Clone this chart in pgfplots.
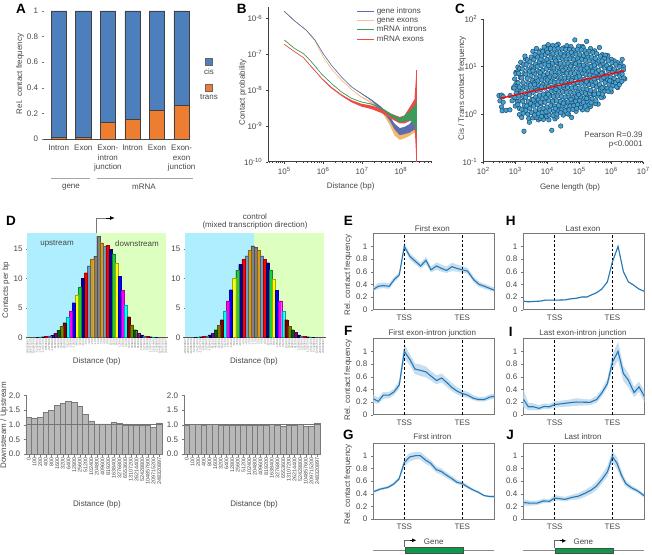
\documentclass[border=0pt]{standalone}
\usepackage{fontspec}
\setmainfont{Liberation Sans}
\usepackage{pgfplots}
\usepackage{pgfplotstable}
\pgfplotsset{compat=1.18}
\usetikzlibrary{arrows.meta}

\definecolor{txt}{RGB}{70,70,70}
\definecolor{axc}{RGB}{120,120,120}
\definecolor{cis}{RGB}{76,127,188}
\definecolor{trans}{RGB}{237,125,49}
\definecolor{gintron}{RGB}{90,110,176}
\definecolor{gexon}{RGB}{245,197,134}
\definecolor{mintron}{RGB}{60,154,90}
\definecolor{mexon}{RGB}{238,74,74}
\definecolor{scat}{RGB}{70,160,208}
\definecolor{scatl}{RGB}{24,70,100}
\definecolor{up}{RGB}{174,238,255}
\definecolor{down}{RGB}{221,255,191}
\definecolor{profc}{RGB}{38,120,181}
\definecolor{band}{RGB}{198,222,240}
\definecolor{genebox}{RGB}{10,154,74}
% bar colours of panel D
\definecolor{c1}{RGB}{128,128,128}
\definecolor{c2}{RGB}{218,155,20}
\definecolor{c3}{RGB}{106,159,200}
\definecolor{c4}{RGB}{255,0,0}
\definecolor{c5}{RGB}{0,0,150}
\definecolor{c6}{RGB}{30,205,60}
\definecolor{c7}{RGB}{255,255,0}
\definecolor{c8}{RGB}{0,0,255}
\definecolor{c9}{RGB}{255,0,255}
\definecolor{c10}{RGB}{0,255,255}
\definecolor{c11}{RGB}{128,0,0}
\definecolor{c12}{RGB}{128,128,0}
\definecolor{c13}{RGB}{0,100,0}
\definecolor{c14}{RGB}{128,0,128}
\definecolor{c15}{RGB}{0,0,128}

\newcommand\lab{\fontsize{8}{9.7}\selectfont}
\newcommand\tp[1]{10\textsuperscript{#1}}
\newcommand\txt[3]{\node[font=\lab,text=txt,inner sep=0pt,align=center] at (#1,{554-#2}) {#3};}
\newcommand\letter[3]{\node[font=\fontsize{13.5}{14}\selectfont\bfseries,inner sep=0pt] at (#1,{554-#2}) {#3};}

\pgfplotsset{
  /pgf/number format/assume math mode=true,
  every axis title shift=0pt,
  base/.style={scale only axis,anchor=south west,clip=false,
    tick label style={font=\lab,text=txt},label style={font=\lab,text=txt},
    title style={font=\lab,text=txt},
    tick align=outside,axis line style={axc},tick style={axc},
    major tick length=2.5pt,minor tick length=1.3pt},
  ylab/.style 2 args={ylabel style={at={(axis description cs:#1,#2)},anchor=center}},
  xlab/.style 2 args={xlabel style={at={(axis description cs:#1,#2)},anchor=center}},
  tit/.style 2 args={title style={at={(axis description cs:#1,#2)},anchor=center}},
  prof/.style={base,width=120.7,height=76,ymin=0,ymax=1.2,
    ytick={0,0.2,0.4,0.6,0.8,1},xtick={0,1},xticklabels={TSS,TES},
    xtick style={draw=none},ytick pos=left,axis line style={axc,line width=0.9pt},
    xticklabel style={yshift=1pt},clip=true},
  % upper histogram of panel D
  hist/.style={base,width=138.7,height=104,ymin=0,ymax=17.7,
    axis lines*=left,axis line style={axc,line width=1pt},
    ytick={0,5,10,15},xtick={-22.5,-21.5,-20.5,-19.5,-18.5,-17.5,-16.5,-15.5,-14.5,-13.5,-12.5,-11.5,-10.5,-9.5,-8.5,-7.5,-6.5,-5.5,-4.5,-3.5,-2.5,-1.5,-0.5,0.5,1.5,2.5,3.5,4.5,5.5,6.5,7.5,8.5,9.5,10.5,11.5,12.5,13.5,14.5,15.5,16.5,17.5,18.5,19.5,20.5,21.5,22.5},
    xticklabels={-248320897,-209715200,-104857600,-52428800,-26214400,-13107200,-6553600,-3276800,-1638400,-819200,-409600,-204800,-102400,-51200,-25600,-12800,-6400,-3200,-1600,-800,-400,-200,-100,100,200,400,800,1600,3200,6400,12800,25600,51200,102400,204800,409600,819200,1638400,3276800,6553600,13107200,26214400,52428800,104857600,209715200,248320897},
    xticklabel style={font=\fontsize{2.9}{3}\selectfont,rotate=90,anchor=east,text=axc,xshift=-0.5pt,inner sep=0pt},
    major tick length=1.2pt},
  % lower ratio plot of panel D
  ratio/.style={base,width=136,height=58.7,ymin=0,ymax=2,xmin=-0.5,xmax=23.5,
    axis lines*=left,axis line style={axc,line width=0.9pt},
    ytick={0,0.5,1,1.5,2},yticklabel style={/pgf/number format/.cd,fixed,fixed zerofill,precision=1},
    xtick={0,...,23},
    xticklabels={0,100,200,400,800,1600,3200,6400,12800,25600,51200,102400,204800,409600,819200,1638400,3276800,6553600,13107200,26214400,52428800,104857600,209715200,248320897},
    xticklabel style={font=\fontsize{5.4}{6}\selectfont,rotate=90,anchor=east,text=txt,inner sep=1pt}},
}
\newcommand\bb[2]{\addplot[ybar,bar shift=0pt,bar width=3.07pt,fill=#1,draw=#1!65!black,line width=0.2pt] coordinates {#2};}
\newcommand\ratiobars[1]{\addplot[ybar,bar shift=0pt,bar width=5.67pt,fill=black!28,draw=black!52,line width=0.5pt] coordinates {#1};
  \addplot[black!55,line width=0.5pt] coordinates {(-0.5,1) (23.5,1)};}
% band polygon: hi column forwards, lo column backwards
\newcommand\bandof[2]{%
  \pgfplotstablegetrowsof{#1}\pgfmathtruncatemacro\nr{\pgfplotsretval-1}%
  \gdef\fw{}\gdef\bw{}%
  \pgfplotsforeachungrouped \i in {0,...,\nr}{%
    \pgfplotstablegetelem{\i}{x}\of{#1}\let\xv\pgfplotsretval
    \pgfplotstablegetelem{\i}{hi}\of{#1}\let\hv\pgfplotsretval
    \pgfplotstablegetelem{\i}{lo}\of{#1}\let\lv\pgfplotsretval
    \xdef\fw{\fw (\xv,\hv)}\xdef\bw{(\xv,\lv) \bw}}%
  \edef\tmp{\noexpand\addplot[fill=#2,draw=none,forget plot] coordinates {\fw\space\bw} --cycle;}\tmp}
\newcommand\profile[1]{
  \bandof{#1}{band}
  \addplot[black,line width=0.7pt,dash pattern=on 2.5pt off 2pt] coordinates {(0,0) (0,1.2)};
  \addplot[black,line width=0.7pt,dash pattern=on 2.5pt off 2pt] coordinates {(1,0) (1,1.2)};
  \addplot[profc,line width=1.1pt] table[x=x,y=y] {#1};
}
\newcommand\contact[2]{
  \bandof{#1}{#2}
  \addplot[#2,line width=0.55pt,forget plot] table[x=x,y=y] {#1};
}

\pgfplotstableread{
x y lo hi
5.00 -5.80 -5.802 -5.798
5.27 -6.07 -6.072 -6.068
5.57 -6.33 -6.332 -6.328
5.79 -6.60 -6.602 -6.598
6.00 -6.98 -6.982 -6.978
6.21 -7.30 -7.302 -7.298
6.47 -7.63 -7.632 -7.628
6.73 -7.91 -7.912 -7.908
6.98 -8.09 -8.10 -8.08
7.24 -8.28 -8.30 -8.26
7.50 -8.51 -8.55 -8.47
7.71 -8.79 -8.85 -8.73
7.84 -9.02 -9.10 -8.94
7.97 -9.16 -9.26 -9.06
8.09 -9.13 -9.23 -9.03
8.22 -9.07 -9.19 -8.95
8.35 -8.93 -9.10 -8.76
8.40 -8.74 -9.25 -8.45
}\tabGI
\pgfplotstableread{
x y lo hi
5.00 -5.80 -5.802 -5.798
5.27 -6.07 -6.072 -6.068
5.57 -6.33 -6.332 -6.328
5.79 -6.62 -6.622 -6.618
6.00 -7.07 -7.072 -7.068
6.21 -7.40 -7.402 -7.398
6.47 -7.72 -7.722 -7.718
6.73 -7.98 -7.982 -7.978
6.98 -8.19 -8.20 -8.18
7.24 -8.35 -8.37 -8.33
7.50 -8.54 -8.59 -8.49
7.71 -8.88 -8.97 -8.79
7.84 -9.16 -9.27 -9.05
7.97 -9.26 -9.39 -9.13
8.09 -9.23 -9.35 -9.11
8.22 -9.13 -9.28 -8.98
8.35 -9.00 -9.18 -8.80
8.40 -8.90 -9.35 -8.55
}\tabGE
\pgfplotstableread{
x y lo hi
5.00 -6.60 -6.604 -6.596
5.27 -6.84 -6.844 -6.836
5.49 -6.98 -6.984 -6.976
5.70 -7.21 -7.214 -7.206
5.96 -7.55 -7.554 -7.546
6.21 -7.81 -7.814 -7.806
6.47 -8.05 -8.054 -8.046
6.73 -8.23 -8.235 -8.225
6.98 -8.33 -8.335 -8.325
7.24 -8.39 -8.40 -8.38
7.50 -8.51 -8.53 -8.49
7.75 -8.70 -8.74 -8.66
7.97 -8.84 -8.90 -8.78
8.09 -8.79 -8.87 -8.71
8.26 -8.70 -8.85 -8.55
8.35 -8.66 -8.95 -8.45
8.40 -8.60 -9.20 -8.30
}\tabMI
\pgfplotstableread{
x y lo hi
5.00 -6.72 -6.724 -6.716
5.27 -6.93 -6.934 -6.926
5.49 -7.09 -7.094 -7.086
5.70 -7.35 -7.36 -7.34
5.96 -7.67 -7.68 -7.66
6.21 -7.93 -7.95 -7.91
6.47 -8.14 -8.16 -8.12
6.73 -8.31 -8.34 -8.28
6.98 -8.42 -8.46 -8.38
7.24 -8.48 -8.53 -8.43
7.50 -8.58 -8.64 -8.52
7.75 -8.73 -8.80 -8.66
7.97 -8.84 -8.93 -8.75
8.09 -8.82 -8.93 -8.71
8.26 -8.65 -8.85 -8.42
8.35 -8.55 -8.95 -8.25
8.40 -8.47 -10.00 -7.44
}\tabME

\pgfplotstableread{
x y lo hi
-0.534 0.32 0.29 0.36
-0.448 0.37 0.33 0.42
-0.362 0.38 0.34 0.43
-0.259 0.37 0.33 0.42
-0.178 0.47 0.43 0.51
-0.086 0.55 0.52 0.59
0 1.00 0.96 1.06
0.098 0.84 0.79 0.89
0.184 0.77 0.72 0.82
0.282 0.69 0.65 0.74
0.374 0.78 0.72 0.83
0.460 0.63 0.59 0.68
0.557 0.69 0.63 0.75
0.644 0.65 0.60 0.71
0.730 0.62 0.58 0.68
0.822 0.68 0.61 0.74
0.914 0.65 0.60 0.71
1 0.63 0.58 0.69
1.090 0.61 0.57 0.66
1.200 0.47 0.43 0.52
1.290 0.40 0.36 0.44
1.380 0.37 0.33 0.41
1.547 0.31 0.28 0.35
}\tabE
\pgfplotstableread{
x y lo hi
-0.534 0.25 0.19 0.31
-0.448 0.21 0.17 0.27
-0.362 0.31 0.25 0.36
-0.259 0.31 0.26 0.36
-0.178 0.36 0.31 0.41
-0.086 0.47 0.41 0.54
0 1.00 0.88 1.12
0.098 0.87 0.78 0.95
0.184 0.72 0.64 0.81
0.282 0.70 0.61 0.79
0.374 0.675 0.59 0.76
0.460 0.61 0.54 0.69
0.557 0.54 0.48 0.62
0.644 0.58 0.51 0.65
0.730 0.51 0.44 0.58
0.822 0.43 0.37 0.50
0.914 0.37 0.32 0.43
1 0.335 0.28 0.39
1.090 0.31 0.27 0.36
1.190 0.26 0.23 0.31
1.280 0.24 0.21 0.28
1.380 0.24 0.21 0.28
1.480 0.28 0.24 0.32
1.547 0.29 0.25 0.33
}\tabF
\pgfplotstableread{
x y lo hi
-0.534 0.43 0.41 0.45
-0.420 0.47 0.45 0.49
-0.280 0.50 0.48 0.52
-0.184 0.55 0.53 0.58
-0.092 0.63 0.60 0.66
0 0.89 0.83 0.95
0.092 0.98 0.91 1.04
0.195 1.00 0.94 1.06
0.276 1.00 0.94 1.06
0.368 0.93 0.87 0.99
0.454 0.88 0.83 0.93
0.552 0.78 0.73 0.83
0.638 0.75 0.70 0.80
0.724 0.695 0.65 0.74
0.816 0.64 0.60 0.68
0.908 0.58 0.55 0.62
1 0.56 0.53 0.59
1.086 0.51 0.48 0.54
1.184 0.46 0.44 0.48
1.282 0.42 0.40 0.44
1.374 0.37 0.36 0.385
1.470 0.355 0.34 0.37
1.547 0.355 0.34 0.37
}\tabG
\pgfplotstableread{
x y lo hi
-0.544 0.135 0.125 0.145
-0.457 0.125 0.115 0.135
-0.370 0.130 0.120 0.140
-0.254 0.135 0.125 0.145
-0.168 0.150 0.140 0.160
0 0.150 0.140 0.160
0.179 0.155 0.145 0.165
0.266 0.170 0.160 0.180
0.370 0.180 0.170 0.190
0.468 0.200 0.190 0.210
0.555 0.200 0.190 0.210
0.642 0.235 0.225 0.245
0.728 0.270 0.260 0.280
0.815 0.325 0.315 0.335
0.913 0.440 0.425 0.455
1 0.755 0.735 0.775
1.098 1.00 0.98 1.02
1.191 0.60 0.585 0.615
1.277 0.44 0.43 0.45
1.364 0.39 0.38 0.40
1.462 0.325 0.315 0.335
1.553 0.29 0.28 0.30
}\tabH
\pgfplotstableread{
x y lo hi
-0.544 0.245 0.12 0.40
-0.457 0.125 0.07 0.19
-0.370 0.125 0.07 0.18
-0.272 0.10 0.07 0.15
-0.185 0.13 0.09 0.18
-0.092 0.125 0.09 0.17
0 0.16 0.11 0.21
0.092 0.17 0.12 0.22
0.266 0.19 0.13 0.24
0.370 0.20 0.14 0.26
0.613 0.195 0.15 0.24
0.728 0.24 0.19 0.30
0.821 0.35 0.29 0.41
0.913 0.49 0.43 0.57
1 0.83 0.71 0.95
1.098 1.00 0.86 1.15
1.191 0.65 0.53 0.77
1.277 0.545 0.43 0.65
1.376 0.35 0.28 0.44
1.462 0.44 0.36 0.52
1.553 0.29 0.20 0.38
}\tabI
\pgfplotstableread{
x y lo hi
-0.540 0.26 0.21 0.31
-0.425 0.25 0.21 0.29
-0.310 0.25 0.22 0.29
-0.195 0.285 0.25 0.32
-0.092 0.28 0.25 0.31
0 0.33 0.29 0.38
0.092 0.32 0.29 0.36
0.178 0.31 0.28 0.35
0.293 0.34 0.30 0.38
0.408 0.36 0.31 0.41
0.523 0.405 0.35 0.46
0.638 0.46 0.40 0.52
0.724 0.52 0.46 0.59
0.810 0.615 0.55 0.69
0.914 0.745 0.67 0.84
1 0.985 0.89 1.08
1.080 0.88 0.79 0.97
1.155 0.695 0.63 0.77
1.230 0.56 0.51 0.61
1.328 0.495 0.46 0.53
1.443 0.44 0.41 0.47
1.546 0.37 0.34 0.40
}\tabJ

\begin{document}
\begin{tikzpicture}[x=1pt,y=1pt]
\path[use as bounding box] (0,0) rectangle (652,554);

% ---------- A
\begin{axis}[base,at={(44pt,415pt)},width=146,height=128,
  ybar stacked,bar width=15.3pt,ymin=0,ymax=1,xmin=-0.6,xmax=5.34,
  axis x line*=bottom,axis y line*=left,y axis line style={draw=none},
  x axis line style={black!70,line width=0.7pt},
  ytick={0,0.2,0.4,0.6,0.8,1},xtick={0,1,2,3,4,5},xtick style={draw=none},
  xticklabels={Intron,Exon,{Exon-\\intron\\junction},Intron,Exon,{Exon-\\exon\\junction}},
  xticklabel style={align=center},
  ylabel={Rel. contact frequency},ylab={-0.164}{0.508}]
\addplot[fill=trans,draw=black!75,line width=0.6pt] coordinates {(0,0.012) (1,0.012) (2,0.13) (3,0.155) (4,0.225) (5,0.265)};
\addplot[fill=cis,draw=black!75,line width=0.6pt] coordinates {(0,0.988) (1,0.988) (2,0.87) (3,0.845) (4,0.775) (5,0.735)};
\end{axis}
\fill[cis,draw=black!60,line width=0.3pt] (205.5,{554-65}) rectangle (212.5,{554-58});
\txt{209}{72}{cis}
\fill[trans,draw=black!60,line width=0.3pt] (205.5,{554-91}) rectangle (212.5,{554-84});
\txt{209}{97}{trans}
\draw[black!35,line width=1pt] (51,{554-178.5}) -- (90,{554-178.5});
\draw[black!35,line width=1pt] (97,{554-178.5}) -- (192.5,{554-178.5});
\txt{71}{187}{gene}
\txt{144}{187}{mRNA}

% ---------- B
\begin{axis}[base,at={(268.3pt,392.3pt)},width=163.7,height=155,
  xmin=4.59,xmax=8.80,ymin=-10,ymax=-5.67,
  axis lines*=left,axis line style={black!75},tick style={black!75},
  xtick={5,6,7,8},xticklabels={\tp{5},\tp{6},\tp{7},\tp{8}},
  minor xtick={4.60,4.70,4.78,4.85,4.90,4.95,5.30,5.48,5.60,5.70,5.78,5.85,5.90,5.95,6.30,6.48,6.60,6.70,6.78,6.85,6.90,6.95,7.30,7.48,7.60,7.70,7.78,7.85,7.90,7.95,8.30,8.48,8.60,8.70,8.78},
  ytick={-10,-9,-8,-7,-6},yticklabels={\tp{-10},\tp{-9},\tp{-8},\tp{-7},\tp{-6}},
  xlabel={Distance (bp)},xlab={0.503}{-0.157},
  ylabel={Contact probability},ylab={-0.156}{0.448},
  legend style={at={(axis description cs:0.54,1.005)},anchor=north west,draw=none,fill=none,font=\lab,text=txt,row sep=-1.6pt,inner sep=0pt},
  legend cell align=left]
\addlegendimage{gintron,line width=0.8pt}\addlegendentry{gene introns}
\addlegendimage{gexon,line width=0.8pt}\addlegendentry{gene exons}
\addlegendimage{mintron,line width=0.8pt}\addlegendentry{mRNA introns}
\addlegendimage{mexon,line width=0.8pt}\addlegendentry{mRNA exons}
\contact{\tabGE}{gexon!80!orange}
\contact{\tabGI}{gintron}
\contact{\tabME}{mexon}
\contact{\tabMI}{mintron}
\addplot[mexon,line width=0.7pt,forget plot] coordinates {(8.40,-10) (8.40,-7.44)};
\addplot[mintron,line width=1pt,forget plot] coordinates {(8.40,-9.2) (8.40,-8.3)};
\end{axis}

% ---------- C
\begin{axis}[base,at={(483.3pt,392.3pt)},width=160,height=142.7,clip marker paths=true,
  xmin=2,xmax=7,ymin=-1,ymax=2,
  axis lines*=left,axis line style={black!75},tick style={black!75},
  xtick={2,3,4,5,6,7},xticklabels={\tp{2},\tp{3},\tp{4},\tp{5},\tp{6},\tp{7}},
  minor xtick={2.30,2.48,2.60,2.70,2.78,2.85,2.90,2.95,3.30,3.48,3.60,3.70,3.78,3.85,3.90,3.95,4.30,4.48,4.60,4.70,4.78,4.85,4.90,4.95,5.30,5.48,5.60,5.70,5.78,5.85,5.90,5.95,6.30,6.48,6.60,6.70,6.78,6.85,6.90,6.95},
  ytick={-1,0,1,2},yticklabels={\tp{-1},\tp{0},\tp{1},\tp{2}},
  xlabel={Gene length (bp)},xlab={0.542}{-0.182},
  ylabel={Cis / Trans contact frequency},ylab={-0.133}{0.514}]
\addplot[only marks,mark=*,mark size=2.3pt,mark options={fill=scat,draw=scatl,line width=0.45pt}] coordinates {
(2.49,0.39)(2.57,0.40)(2.62,0.37)(2.52,0.28)(2.62,0.25)(2.57,0.15)(2.59,0.07)(2.71,0.08)(2.83,0.09)(2.84,0.39)(2.90,0.28)(2.99,0.35)(3.02,0.88)(3.06,0.89)(2.94,0.55)(3.06,0.49)(2.99,0.60)
(3.27,-0.36)(4.14,-0.34)(4.42,-0.25)(4.24,-0.10)(4.66,0.00)(4.76,-0.07)(5.25,0.09)(5.59,0.21)(4.86,1.56)(5.23,1.53)(4.34,1.47)(4.50,1.39)(3.98,1.42)(5.10,1.42)(5.63,1.40)(3.79,1.33)(3.17,1.09)(3.32,1.16)(5.89,1.23)(6.09,1.12)(6.34,1.15)(6.38,1.00)(3.13,-0.01)(3.20,-0.07)(3.42,-0.09)(3.44,-0.17)(3.72,-0.12)(3.93,-0.04)
(3.08,0.99)(3.30,1.22)(3.55,1.32)(3.66,1.38)(3.90,1.41)(4.03,1.46)(4.17,1.44)(4.28,1.44)(4.61,1.44)(4.74,1.42)(4.98,1.43)(5.12,1.40)(5.35,1.38)(5.48,1.33)(5.72,1.25)(5.81,1.24)(6.00,1.15)(6.20,1.08)(6.30,1.05)(3.25,0.02)(3.55,-0.08)(3.65,-0.07)(3.78,-0.09)(3.88,-0.11)(4.05,-0.12)(4.30,-0.06)(4.50,-0.02)(4.62,0.02)(4.90,0.06)(5.10,0.09)(5.35,0.16)(5.50,0.22)(5.75,0.36)(6.00,0.47)(6.20,0.56)(6.42,0.74)
(3.02,0.85)(2.98,0.74)(3.05,0.66)(2.96,0.55)(3.03,0.44)(2.99,0.35)(3.06,0.26)(3.00,0.17)
(3.14,0.96)(3.10,0.86)(3.16,0.77)(3.09,0.66)(3.13,0.57)(3.17,0.47)(3.11,0.38)(3.15,0.28)(3.08,0.20)(3.13,0.12)
(3.26,1.05)(3.22,0.95)(3.27,0.85)(3.20,0.76)(3.25,0.66)(3.28,0.57)(3.21,0.47)(3.26,0.37)(3.23,0.27)(3.29,0.18)(3.20,0.10)
(3.38,1.14)(3.34,1.04)(3.39,0.94)(3.33,0.84)(3.37,0.75)(3.41,0.65)(3.35,0.55)(3.38,0.45)(3.32,0.35)(3.40,0.26)(3.36,0.17)(3.33,0.08)(3.39,0.00)
(3.50,1.20)(3.46,1.10)(3.51,1.00)(3.45,0.90)(3.49,0.81)(3.53,0.71)(3.47,0.61)(3.50,0.51)(3.44,0.41)(3.52,0.31)(3.48,0.22)(3.45,0.12)(3.51,0.03)
(3.62,1.25)(3.58,1.15)(3.63,1.05)(3.57,0.95)(3.61,0.86)(3.65,0.76)(3.59,0.66)(3.62,0.56)(3.56,0.46)(3.64,0.36)(3.60,0.27)(3.57,0.17)(3.63,0.07)(3.60,-0.02)
(3.74,1.30)(3.70,1.20)(3.75,1.10)(3.69,1.00)(3.73,0.90)(3.77,0.80)(3.71,0.70)(3.74,0.60)(3.68,0.50)(3.76,0.40)(3.72,0.30)(3.69,0.20)(3.75,0.11)(3.72,0.01)
(3.86,1.32)(3.82,1.22)(3.87,1.12)(3.81,1.02)(3.85,0.92)(3.89,0.82)(3.83,0.72)(3.86,0.62)(3.80,0.52)(3.88,0.42)(3.84,0.32)(3.81,0.22)(3.87,0.12)(3.84,0.03)(3.82,-0.05)
(3.98,1.35)(3.94,1.25)(3.99,1.15)(3.93,1.05)(3.97,0.95)(4.01,0.85)(3.95,0.75)(3.98,0.65)(3.92,0.55)(4.00,0.45)(3.96,0.35)(3.93,0.25)(3.99,0.15)(3.96,0.05)(3.98,-0.05)
(4.10,1.38)(4.06,1.28)(4.11,1.18)(4.05,1.08)(4.09,0.98)(4.13,0.88)(4.07,0.78)(4.10,0.68)(4.04,0.58)(4.12,0.48)(4.08,0.38)(4.05,0.28)(4.11,0.18)(4.08,0.08)(4.06,-0.02)
(4.22,1.37)(4.18,1.27)(4.23,1.17)(4.17,1.07)(4.21,0.97)(4.25,0.87)(4.19,0.77)(4.22,0.67)(4.16,0.57)(4.24,0.47)(4.20,0.37)(4.17,0.27)(4.23,0.17)(4.20,0.07)(4.18,-0.03)
(4.34,1.38)(4.30,1.28)(4.35,1.18)(4.29,1.08)(4.33,0.98)(4.37,0.88)(4.31,0.78)(4.34,0.68)(4.28,0.58)(4.36,0.48)(4.32,0.38)(4.29,0.28)(4.35,0.18)(4.32,0.08)(4.30,0.00)
(4.46,1.37)(4.42,1.27)(4.47,1.17)(4.41,1.07)(4.45,0.97)(4.49,0.87)(4.43,0.77)(4.46,0.67)(4.40,0.57)(4.48,0.47)(4.44,0.37)(4.41,0.27)(4.47,0.17)(4.44,0.09)(4.42,0.03)
(4.58,1.36)(4.54,1.26)(4.59,1.16)(4.53,1.06)(4.57,0.96)(4.61,0.86)(4.55,0.76)(4.58,0.66)(4.52,0.56)(4.60,0.46)(4.56,0.36)(4.53,0.26)(4.59,0.16)(4.56,0.07)
(4.70,1.36)(4.66,1.26)(4.71,1.16)(4.65,1.06)(4.69,0.96)(4.73,0.86)(4.67,0.76)(4.70,0.66)(4.64,0.56)(4.72,0.46)(4.68,0.36)(4.65,0.26)(4.71,0.17)(4.68,0.09)
(4.82,1.35)(4.78,1.25)(4.83,1.15)(4.77,1.05)(4.81,0.95)(4.85,0.85)(4.79,0.75)(4.82,0.65)(4.76,0.55)(4.84,0.45)(4.80,0.35)(4.77,0.26)(4.83,0.18)(4.80,0.10)
(4.94,1.36)(4.90,1.26)(4.95,1.16)(4.89,1.06)(4.93,0.96)(4.97,0.86)(4.91,0.76)(4.94,0.66)(4.88,0.56)(4.96,0.46)(4.92,0.36)(4.89,0.27)(4.95,0.20)(4.92,0.12)
(5.06,1.35)(5.02,1.25)(5.07,1.15)(5.01,1.05)(5.05,0.95)(5.09,0.85)(5.03,0.75)(5.06,0.65)(5.00,0.55)(5.08,0.45)(5.04,0.36)(5.01,0.28)(5.07,0.21)(5.04,0.14)
(5.18,1.33)(5.14,1.23)(5.19,1.13)(5.13,1.03)(5.17,0.93)(5.21,0.83)(5.15,0.73)(5.18,0.63)(5.12,0.53)(5.20,0.43)(5.16,0.34)(5.13,0.25)(5.19,0.17)
(5.30,1.32)(5.26,1.22)(5.31,1.12)(5.25,1.02)(5.29,0.92)(5.33,0.82)(5.27,0.72)(5.30,0.62)(5.24,0.52)(5.32,0.43)(5.28,0.34)(5.25,0.26)(5.31,0.20)
(5.42,1.30)(5.38,1.20)(5.43,1.10)(5.37,1.00)(5.41,0.90)(5.45,0.80)(5.39,0.70)(5.42,0.60)(5.36,0.50)(5.44,0.41)(5.40,0.32)(5.37,0.24)
(5.54,1.27)(5.50,1.17)(5.55,1.07)(5.49,0.97)(5.53,0.87)(5.57,0.77)(5.51,0.67)(5.54,0.57)(5.48,0.47)(5.56,0.38)(5.52,0.28)
(5.66,1.22)(5.62,1.12)(5.67,1.02)(5.61,0.92)(5.65,0.82)(5.69,0.72)(5.63,0.62)(5.66,0.52)(5.60,0.43)(5.68,0.35)
(5.78,1.17)(5.74,1.07)(5.79,0.97)(5.73,0.87)(5.77,0.77)(5.81,0.67)(5.75,0.57)(5.78,0.48)(5.72,0.42)
(5.90,1.12)(5.86,1.02)(5.91,0.92)(5.85,0.82)(5.89,0.72)(5.93,0.63)(5.87,0.54)(5.90,0.48)
(6.02,1.08)(5.98,0.98)(6.03,0.88)(5.97,0.78)(6.01,0.69)(6.05,0.60)(5.99,0.53)
(6.14,1.05)(6.10,0.95)(6.15,0.85)(6.09,0.75)(6.13,0.66)(6.17,0.57)
(6.26,1.00)(6.22,0.90)(6.27,0.80)(6.21,0.71)(6.25,0.62)
(6.38,0.93)(6.34,0.84)(6.39,0.76)(6.33,0.69)
(3.56,0.30)(3.60,0.62)(3.55,0.91)(3.79,0.25)(3.82,0.57)(3.78,0.87)(3.80,1.15)(4.03,0.42)(4.00,0.72)(4.04,1.02)(4.01,1.30)(4.25,0.12)(4.27,0.52)(4.24,0.81)(4.26,1.12)(4.50,0.23)(4.51,0.61)(4.49,0.92)(4.52,1.22)(4.74,0.31)(4.76,0.71)(4.73,1.01)(4.75,1.30)(4.98,0.41)(5.00,0.80)(4.99,1.10)(5.23,0.33)(5.22,0.68)(5.24,0.97)(5.23,1.27)(5.47,0.42)(5.46,0.74)(5.47,1.03)(5.71,0.55)(5.70,0.86)(5.71,1.12)(5.95,0.70)(5.94,0.96)
};
\addplot[red,line width=1.3pt] coordinates {(2.52,0.33) (6.40,0.91)};
\node[font=\lab,text=txt,anchor=east,inner sep=0pt] at (axis cs:6.98,-0.443) {Pearson R=0.39};
\node[font=\lab,text=txt,anchor=east,inner sep=0pt] at (axis cs:6.98,-0.648) {p<0.0001};
\end{axis}

% ---------- D, upper left
\begin{axis}[hist,at={(27.3pt,216.7pt)},xmin=-22.6,xmax=22.57,
  xlabel={Distance (bp)},xlab={0.5}{-0.235},
  ylabel={Contacts per bp},ylab={-0.154}{0.455}]
\fill[up] (axis cs:-22.6,0) rectangle (axis cs:0,17.7);
\fill[down] (axis cs:0,0) rectangle (axis cs:22.57,17.7);
\bb{c1}{(-0.5,13.8) (0.5,17.2)}
\bb{c2}{(-1.5,13.3) (1.5,16.1)}
\bb{c3}{(-2.5,12.2) (2.5,15.5)}
\bb{c4}{(-3.5,11.0) (3.5,15.7)}
\bb{c5}{(-4.5,10.0) (4.5,15.0)}
\bb{c6}{(-5.5,8.6) (5.5,14.2)}
\bb{c7}{(-6.5,7.2) (6.5,12.6)}
\bb{c8}{(-7.5,5.9) (7.5,10.4)}
\bb{c9}{(-8.5,4.5) (8.5,8.0)}
\bb{c10}{(-9.5,3.4) (9.5,5.5)}
\bb{c11}{(-10.5,2.5) (10.5,3.5)}
\bb{c12}{(-11.5,1.9) (11.5,2.1)}
\bb{c13}{(-12.5,1.2) (12.5,1.3)}
\bb{c14}{(-13.5,0.7) (13.5,0.7)}
\bb{c15}{(-14.5,0.35) (14.5,0.4)}
\bb{c3}{(-15.5,0.25) (15.5,0.25)}
\bb{c4}{(-16.5,0.15) (16.5,0.15)}
\bb{c5}{(-17.5,0.10) (17.5,0.10)}
\bb{c6}{(-18.5,0.07) (18.5,0.07)}
\bb{c5}{(-19.5,0.05) (19.5,0.05)}
\bb{c1}{(-20.5,0.04) (20.5,0.04)}
\bb{c1}{(-21.5,0.03) (21.5,0.03)}
\bb{c1}{(-22.5,0.02) (22.5,0.02)}
\end{axis}
\txt{57}{243.7}{upstream}
\txt{137}{243.7}{downstream}
\draw[axc,line width=0.9pt] (96.7,{554-233}) -- (96.7,{554-218}) -- (108,{554-218});
\draw[black,line width=0.9pt,-{Latex[length=5pt,width=4pt]}] (106,{554-218}) -- (115,{554-218});

% ---------- D, upper right
\begin{axis}[hist,at={(185pt,216.7pt)},width=139,xmin=-22.5,xmax=22.8,
  xlabel={Distance (bp)},xlab={0.496}{-0.235}]
\fill[up] (axis cs:-22.5,0) rectangle (axis cs:0,17.7);
\fill[down] (axis cs:0,0) rectangle (axis cs:22.8,17.7);
\bb{c1}{(-0.5,15.6) (0.5,15.3)}
\bb{c2}{(-1.5,14.8) (1.5,14.8)}
\bb{c3}{(-2.5,13.9) (2.5,13.9)}
\bb{c4}{(-3.5,13.3) (3.5,13.3)}
\bb{c5}{(-4.5,12.4) (4.5,12.7)}
\bb{c6}{(-5.5,11.4) (5.5,11.4)}
\bb{c7}{(-6.5,10.0) (6.5,9.9)}
\bb{c8}{(-7.5,8.1) (7.5,8.0)}
\bb{c9}{(-8.5,6.2) (8.5,6.2)}
\bb{c10}{(-9.5,4.5) (9.5,4.4)}
\bb{c11}{(-10.5,3.0) (10.5,3.0)}
\bb{c12}{(-11.5,2.0) (11.5,1.9)}
\bb{c13}{(-12.5,1.3) (12.5,1.3)}
\bb{c14}{(-13.5,0.7) (13.5,0.8)}
\bb{c15}{(-14.5,0.4) (14.5,0.4)}
\bb{c3}{(-15.5,0.25) (15.5,0.25)}
\bb{c4}{(-16.5,0.15) (16.5,0.15)}
\bb{c5}{(-17.5,0.10) (17.5,0.10)}
\bb{c6}{(-18.5,0.07) (18.5,0.07)}
\bb{c5}{(-19.5,0.05) (19.5,0.05)}
\bb{c1}{(-20.5,0.04) (20.5,0.04)}
\bb{c1}{(-21.5,0.03) (21.5,0.03)}
\bb{c1}{(-22.5,0.02) (22.5,0.02)}
\end{axis}
\txt{255}{217}{control}
\txt{255}{225}{(mixed transcription direction)}

% ---------- D, lower
\begin{axis}[ratio,at={(26pt,100pt)},
  xlabel={Distance (bp)},xlab={0.522}{-0.864},
  ylabel={Downstream / Upstream},ylab={-0.161}{0.49}]
\ratiobars{(0,1.25)(1,1.22)(2,1.25)(3,1.42)(4,1.49)(5,1.66)(6,1.73)(7,1.79)(8,1.76)(9,1.62)(10,1.36)(11,1.13)(12,1.03)(13,1.03)(14,1.03)(15,1.07)(16,1.04)(17,0.98)(18,0.98)(19,0.97)(20,0.97)(21,0.97)(22,0.90)(23,1.06)}
\end{axis}
\begin{axis}[ratio,at={(184pt,100pt)},
  xlabel={Distance (bp)},xlab={0.515}{-0.864}]
\ratiobars{(0,0.97)(1,1.00)(2,1.00)(3,0.99)(4,1.01)(5,1.00)(6,0.99)(7,0.99)(8,0.98)(9,0.98)(10,0.98)(11,0.99)(12,0.99)(13,0.98)(14,0.98)(15,1.00)(16,0.99)(17,0.95)(18,0.98)(19,0.98)(20,1.00)(21,0.93)(22,0.93)(23,1.06)}
\end{axis}

% ---------- E to J
\begin{axis}[prof,at={(373.3pt,244.3pt)},xmin=-0.534,xmax=1.547,title={First exon},tit={0.489}{1.07},
  ylabel={Rel. contact frequency},ylab={-0.21}{0.455}]
\profile{\tabE}
\end{axis}
\begin{axis}[prof,at={(373.3pt,139.3pt)},xmin=-0.534,xmax=1.547,title={First exon-intron junction},tit={0.489}{1.07},
  ylabel={Rel. contact frequency},ylab={-0.21}{0.455}]
\profile{\tabF}
\end{axis}
\begin{axis}[prof,at={(373.3pt,35pt)},xmin=-0.534,xmax=1.547,title={First intron},tit={0.489}{1.08},
  ylabel={Rel. contact frequency},ylab={-0.21}{0.455}]
\profile{\tabG}
\end{axis}
\begin{axis}[prof,at={(523.3pt,244.3pt)},width=121,xmin=-0.544,xmax=1.553,title={Last exon},tit={0.493}{1.07}]
\profile{\tabH}
\end{axis}
\begin{axis}[prof,at={(523.3pt,139.3pt)},width=121,xmin=-0.544,xmax=1.553,title={Last exon-intron junction},tit={0.493}{1.07}]
\profile{\tabI}
\end{axis}
\begin{axis}[prof,at={(523.3pt,35pt)},width=121,xmin=-0.544,xmax=1.553,title={Last intron},tit={0.493}{1.08}]
\profile{\tabJ}
\end{axis}

% gene sketches
\draw[black!45,line width=1pt] (373.3,{554-550}) -- (494,{554-550});
\fill[genebox,draw=black!70,line width=0.3pt] (404.7,{554-552.7}) rectangle (462.7,{554-547.3});
\draw[black!60,line width=0.7pt] (404.7,{554-547}) -- (404.7,{554-540.3}) -- (412,{554-540.3});
\draw[black,line width=0.8pt,-{Latex[length=4.5pt,width=4pt]}] (410,{554-540.3}) -- (416.5,{554-540.3});
\txt{433.7}{541.7}{Gene}
\draw[black!45,line width=1pt] (523.3,{554-550.7}) -- (644.3,{554-550.7});
\fill[genebox,draw=black!70,line width=0.3pt] (554.7,{554-553.4}) rectangle (612.7,{554-548});
\draw[black!60,line width=0.7pt] (554.7,{554-548}) -- (554.7,{554-540.8}) -- (562,{554-540.8});
\draw[black,line width=0.8pt,-{Latex[length=4.5pt,width=4pt]}] (560,{554-540.8}) -- (566.5,{554-540.8});
\txt{583.3}{541.7}{Gene}

% panel letters
\letter{21}{9.3}{A}
\letter{241.7}{9}{B}
\letter{460}{9.3}{C}
\letter{11}{220.7}{D}
\letter{348.3}{220.7}{E}
\letter{348.3}{330.7}{F}
\letter{348.3}{435}{G}
\letter{510.7}{220.7}{H}
\letter{510.7}{331.7}{I}
\letter{510}{435}{J}
\end{tikzpicture}
\end{document}
